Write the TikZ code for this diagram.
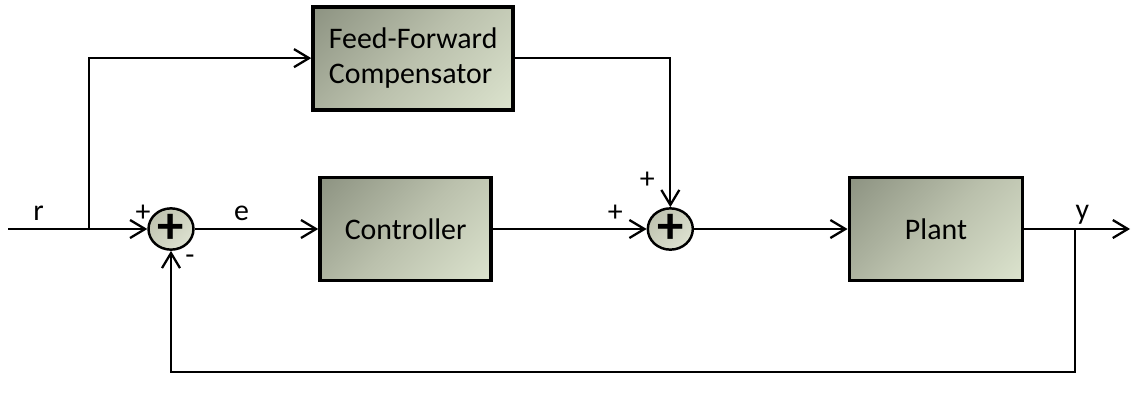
\documentclass[tikz,border=0pt]{standalone}
\usepackage{fontspec}
\setmainfont{Carlito}
\usetikzlibrary{arrows.meta, shapes.geometric, positioning}
\definecolor{boxdark}{RGB}{122,128,112}
\definecolor{boxmid}{RGB}{186,192,172}
\definecolor{boxlight}{RGB}{234,242,220}
\definecolor{sumdark}{RGB}{176,180,160}
\definecolor{sumlight}{RGB}{236,240,224}
\pgfdeclarehorizontalshading{blockshade}{100bp}{color(0bp)=(boxdark); color(50bp)=(boxmid); color(100bp)=(boxlight)}
\pgfdeclarehorizontalshading{sumshade}{100bp}{color(0bp)=(sumdark); color(100bp)=(sumlight)}

\begin{document}
\begin{tikzpicture}[
			node distance=2.47cm,
			block/.style={draw=black, line width=2.2pt, shading=blockshade, shading angle=-45, font=\fontsize{17}{20}\selectfont, align=left, minimum height=2.06cm, minimum width=3.42cm},
			sumnode/.style={ellipse, draw=black, line width=1.4pt, shading=sumshade, shading angle=-45, minimum width=0.9cm, minimum height=0.76cm, inner sep=0pt, font=\fontsize{30}{30}\selectfont\bfseries},
			arr/.style={-{Straight Barb[length=3mm, width=3.6mm]}, line width=1.3pt},
			lab/.style={font=\fontsize{17}{20}\selectfont, inner sep=4pt}]
			\useasboundingbox (0,0) rectangle (22.64,-7.96);
			\node[sumnode] (sum1) at (3.42,-4.58) {+};
			\node[block, right=of sum1] (ctrl) {Controller};
			\node[sumnode, right=3.07cm of ctrl] (sum2) {+};
			\node[block, minimum width=3.46cm, right=3.07cm of sum2] (plant) {Plant};
			\node[block, minimum width=4cm, above=1.28cm of ctrl, xshift=0.15cm] (ff) {Feed-Forward\\Compensator};
			\coordinate (in) at (0.16,-4.58);
			\coordinate (rsplit) at (1.78,-4.58);
			\coordinate (out) at (22.6,-4.58);
			\coordinate (ysplit) at (21.5,-4.58);
			\coordinate (fb) at (21.5,-7.44);
			% signs at the summing points
			\node[lab] (p1) at ([shift={(-0.56,0.32)}]sum1) {+};
			\node[lab] (m1) at ([shift={(0.38,-0.62)}]sum1) {-};
			\node[lab] (p2) at ([shift={(-1.1,0.32)}]sum2) {+};
			\node[lab] (p3) at ([shift={(-0.46,0.98)}]sum2) {+};
			\draw[arr] (in) -- node[lab, above, pos=0.22] {r} (sum1.west);
			\draw[arr] (rsplit) |- (ff.west);
			\draw[arr] (sum1) -- node[lab, above, pos=0.38] {e} (ctrl);
			\draw[arr] (ctrl) -- (sum2);
			\draw[arr] (ff.east) -| (sum2.north);
			\draw[arr] (sum2) -- (plant);
			\draw[arr] (plant) -- node[lab, above, pos=0.55, inner sep=2pt] {y} (out);
			\draw[arr] (ysplit) -- (fb) -| (sum1.south);
		\end{tikzpicture}
\end{document}
